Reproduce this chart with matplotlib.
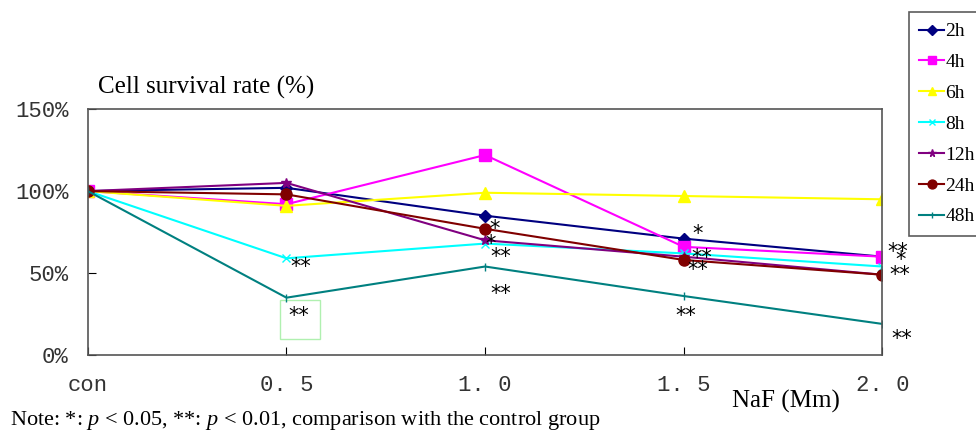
import numpy as np
import matplotlib
matplotlib.use('Agg')
import matplotlib.pyplot as plt
from matplotlib.patches import Rectangle

plt.rcParams['mathtext.fontset'] = 'custom'
plt.rcParams['mathtext.it'] = 'Liberation Serif:italic'
plt.rcParams['mathtext.rm'] = 'Liberation Serif'

# data
doses = ['con', '0. 5', '1. 0', '1. 5', '2. 0']
series = ['2h', '4h', '6h', '8h', '12h', '24h', '48h']
v2h = [100, 102, 85, 71, 60]
v4h = [100, 92, 122, 66, 60]
v6h = [100, 91, 99, 97, 95]
v8h = [100, 59, 68, 62, 54]
v12h = [100, 105, 70, 60, 49]
v24h = [100, 98, 77, 58, 49]
v48h = [100, 35, 54, 36, 19]

# significance marks (dose position, y value, text)
sig_x = [1.07, 1.06, 2.05, 2.03, 2.08, 2.08, 3.07, 3.09, 3.07, 3.01, 4.08, 4.09, 4.09, 4.1]
sig_y = [54, 24, 77, 68, 60, 37, 74, 59, 52, 24, 63, 58, 49, 10]
sig_t = ['**', '**', '*', '*', '**', '**', '*', '**', '**', '**', '**', '*', '**', '**']

values = [v2h, v4h, v6h, v8h, v12h, v24h, v48h]
colors = ['#000080', '#FF00FF', '#FFFF00', '#00FFFF', '#800080', '#800000', '#008080']
markers = ['D', 's', '^', 'x', '*', 'o', '|']
msizes = [6, 8, 8, 6, 7, 8, 6]

fig = plt.figure(figsize=(9.76, 4.33), dpi=100)
ax = fig.add_axes([0.090, 0.180, 0.814, 0.568])

x = np.arange(len(doses))
for name, vals, c, m, ms in zip(series, values, colors, markers, msizes):
    ax.plot(x, vals, color=c, marker=m, markersize=ms, linewidth=1.5, label=name,
            markeredgecolor=c)

for sx, sy, st in zip(sig_x, sig_y, sig_t):
    ax.text(sx, sy, st, fontsize=15, ha='center', va='center', color='black',
            family='DejaVu Sans')

ax.add_patch(Rectangle((0.97, 10), 0.2, 23.5, fill=False, edgecolor='#b0f0b0', linewidth=1))

ax.set_xlim(0, 4)
ax.set_ylim(0, 150)
ax.set_xticks(x)
ax.set_xticklabels(doses, family='Liberation Mono', fontsize=16, color='#333333')
ax.set_yticks([0, 50, 100, 150])
ax.set_yticklabels(['0%', '50%', '100%', '150%'], family='Liberation Mono', fontsize=16,
                   color='#333333')
ax.tick_params(axis='x', length=6, direction='in', pad=14)
ax.tick_params(axis='y', length=6, direction='in', pad=14)
for s in ax.spines.values():
    s.set_color('#555555')
    s.set_linewidth(1.2)

fig.text(0.10, 0.797, 'Cell survival rate (%)', family='Liberation Serif', fontsize=18,
         va='center', ha='left')
fig.text(0.805, 0.073, 'NaF (Mm)', family='Liberation Serif', fontsize=18, va='center', ha='center')
fig.text(0.01, 0.028, 'Note: *: $p$ < $0.05$, **: $p$ < $0.01$, comparison with the control group',
         family='Liberation Serif', fontsize=16, va='center')

leg = fig.legend(loc='upper left', bbox_to_anchor=(0.931, 0.972), frameon=True,
                 prop={'family': 'Liberation Serif', 'size': 14}, handlelength=1.25,
                 handletextpad=0.1, labelspacing=0.68, borderpad=0.55, borderaxespad=0,
                 fancybox=False, markerscale=0.8)
leg.get_frame().set_edgecolor('#333333')
leg.get_frame().set_linewidth(1.2)

plt.savefig('out.png', dpi=100)
